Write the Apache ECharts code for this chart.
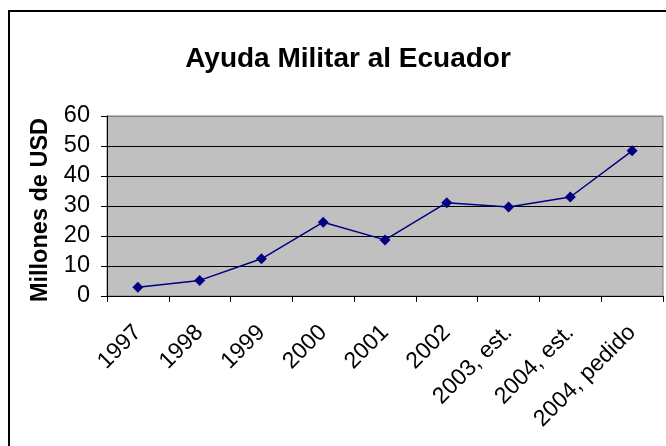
<!DOCTYPE html>
<html>
<head>
<meta charset="utf-8">
<script src="https://cdn.jsdelivr.net/npm/echarts@6/dist/echarts.min.js"></script>
<style>
html,body{margin:0;padding:0;background:#fff;}
#chart{width:666px;height:446px;}
</style>
</head>
<body>
<div id="chart"></div>
<script>
const titleText = 'Ayuda Militar al Ecuador';
const yAxisName = 'Millones de USD';
const categories = ['1997','1998','1999','2000','2001','2002','2003, est.','2004, est.','2004, pedido'];
const values = [2.9, 5.2, 12.4, 24.6, 18.7, 31.1, 29.7, 33.0, 48.4];
const yTicks = [0, 10, 20, 30, 40, 50, 60];

const chart = echarts.init(document.getElementById('chart'), null, {renderer:'canvas'});
const font = 'Liberation Sans, Arial, sans-serif';
chart.setOption({
  animation: false,
  backgroundColor: '#fff',
  title: {
    text: titleText,
    left: 343, top: 40, textAlign: 'center',
    textStyle: {fontFamily: font, fontSize: 28, fontWeight: 'bold', color: '#000'}
  },
  graphic: [{
    type: 'rect', z: 100, silent: true,
    shape: {x: 9, y: 11, width: 700, height: 500},
    style: {fill: 'none', stroke: '#000', lineWidth: 2}
  }],
  grid: {
    left: 107, right: 3, top: 116, bottom: 150,
    show: true, backgroundColor: '#C0C0C0', borderColor: '#808080', borderWidth: 1
  },
  xAxis: {
    type: 'category', data: categories, boundaryGap: true,
    axisLine: {show: true, lineStyle: {color: '#000', width: 1}},
    axisTick: {show: true, alignWithLabel: false, interval: 0, length: 6, lineStyle: {color: '#000'}},
    axisLabel: {interval: 0, rotate: 45, margin: 33, fontFamily: font, fontSize: 23, color: '#000'},
    splitLine: {show: false}
  },
  yAxis: {
    type: 'value', min: yTicks[0], max: yTicks[yTicks.length-1], interval: 10,
    name: yAxisName, nameLocation: 'middle', nameGap: 51,
    nameTextStyle: {fontFamily: font, fontSize: 23.5, fontWeight: 'bold', color: '#000', padding: [0, 8, 0, 0]},
    axisLine: {show: true, lineStyle: {color: '#000', width: 1}},
    axisTick: {show: true, length: 6, lineStyle: {color: '#000'}},
    axisLabel: {margin: 17, fontFamily: font, fontSize: 23.5, color: '#000'},
    splitLine: {show: true, lineStyle: {color: ['#000','#000','#000','#000','#000','#000','#808080'], width: 1}}
  },
  series: [{
    type: 'line', data: values,
    symbol: 'diamond', symbolSize: 11,
    lineStyle: {color: '#000080', width: 1.5},
    itemStyle: {color: '#000080'}
  }]
});
</script>
</body>
</html>
